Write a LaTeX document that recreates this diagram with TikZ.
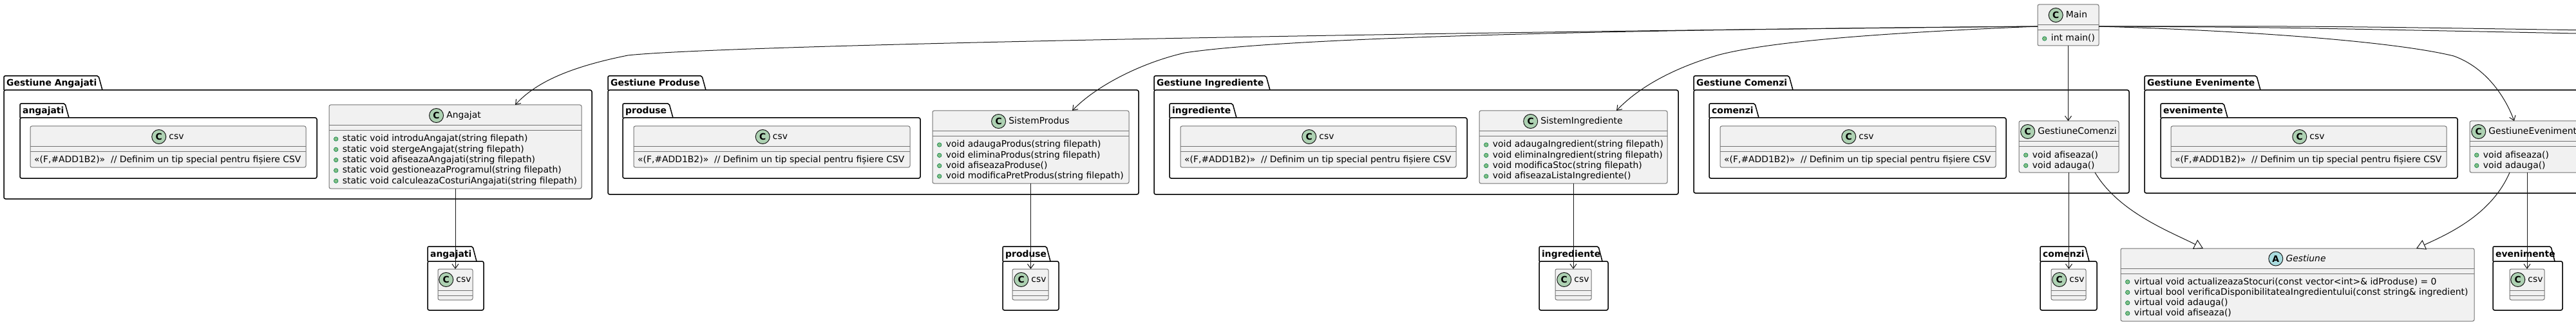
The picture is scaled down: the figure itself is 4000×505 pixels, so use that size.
\documentclass[tikz,border=0pt]{standalone}
\usepackage{fontspec}
\setmainfont{DejaVu Sans}[ItalicFont={DejaVu Sans Oblique},BoldFont={DejaVu Sans Bold}]
\usetikzlibrary{arrows.meta,positioning,calc}
\definecolor{clsfill}{HTML}{F1F1F1}
\definecolor{cfill}{HTML}{ADD1B2}
\definecolor{afill}{HTML}{A9DCDF}
\definecolor{dotfill}{HTML}{84BE84}
\definecolor{dotline}{HTML}{038048}
\definecolor{lnc}{HTML}{181818}
\newcommand{\umlfont}{\fontsize{13.9}{16}\selectfont}
\newcommand{\csvnote}{«(F,\#ADD1B2)»\ \ // Definim un tip special pentru fișiere CSV}
% class box: id, x1, y1, x2, y2, header bottom
\newcommand{\uclass}[6]{%
  \pgfmathsetmacro\uW{#4-#2}\pgfmathsetmacro\uH{#5-#3}%
  \node[classbox, minimum width=\uW pt, minimum height=\uH pt] (#1) at (#2,#3) {};%
  \draw[sepline] (#2,#6) -- (#4,#6);%
  \draw[sepline] (#2,#6+8) -- (#4,#6+8);%
}
% header: id, x1, x2, ycenter, letter, fill, title
\newcommand{\uhead}[7]{%
  \node[ttl] (#1T) at ({(#2+#3)/2+13},#4) {#7};%
  \node[cic, fill=#6, left=4pt of #1T] (#1C) {#5};%
}
% method: id, x1, y, text
\newcommand{\umeth}[4]{%
  \node[mdot] (#1d) at (#2+10.7,#3) {};%
  \node[mtxt] (#1) at (#2+20.7,#3) {#4};%
}
% plain body text: id, x1, y, text
\newcommand{\ubody}[4]{%
  \node[mtxt] (#1) at (#2+6,#3) {#4};%
}
% package: id, x1, ytab, xtab, ybody, x2, ybottom, label
\newcommand{\upkg}[8]{%
  \pgfmathsetmacro\uW{#6-#2}\pgfmathsetmacro\uH{#7-#5}%
  \draw[pkgline, fill=white] (#2,#5) -- (#2,#3) -- (#4-6,#3) -- (#4,#5);%
  \node[pkgbody, minimum width=\uW pt, minimum height=\uH pt] (#1) at (#2,#5) {};%
  \node[pkglabel] (#1L) at (#2+4,{(#3+#5)/2+1}) {#8};%
}
\begin{document}
\begin{tikzpicture}[x=1pt,y=-1pt,
  classbox/.style={anchor=north west, draw=black!55, line width=1pt, fill=clsfill, rounded corners=2.5pt, inner sep=0pt, outer sep=0pt},
  sepline/.style={draw=black!55, line width=1pt},
  ttl/.style={inner sep=0pt, font=\umlfont, text height=10.5pt, text depth=2.5pt},
  cic/.style={circle, draw=lnc, line width=1pt, minimum size=22pt, inner sep=0pt, font=\bfseries\umlfont},
  mdot/.style={circle, draw=dotline, fill=dotfill, line width=0.6pt, minimum size=6.5pt, inner sep=0pt},
  mtxt/.style={anchor=west, inner sep=0pt, font=\umlfont, text height=10.5pt, text depth=2.5pt},
  pkgline/.style={draw=black, line width=1.5pt, rounded corners=2pt},
  pkgbody/.style={anchor=north west, draw=black, line width=1.5pt, fill=white, rounded corners=2.5pt, inner sep=0pt, outer sep=0pt},
  pkglabel/.style={anchor=west, inner sep=0pt, font=\bfseries\umlfont, text height=10.5pt, text depth=2.5pt},
  conn/.style={draw=lnc, line width=1pt},
  dep/.style={conn, -{Straight Barb[length=7pt,width=10pt]}},
  inh/.style={conn, -{Triangle[length=14pt,width=16pt,fill=white]}},
]
\useasboundingbox (0,0) rectangle (4000,505);
\path[clip] (0,0) rectangle (4000,505);

% ---------- Gestiune Angajati ----------
\upkg{pA}{6}{118}{159}{140}{919}{309}{Gestiune Angajati}
\upkg{pAs}{31}{161}{107}{183}{492}{277}{angajati}
\uclass{cA}{47}{196}{475}{260}{228}
\uhead{cA}{47}{475}{212.5}{C}{cfill}{csv}
\ubody{cAb}{47}{248}{\csvnote}
\uclass{ang}{511}{163}{903}{293}{195}
\uhead{ang}{511}{903}{179.5}{C}{cfill}{Angajat}
\umeth{angM1}{511}{216}{static void introduAngajat(string filepath)}
\umeth{angM2}{511}{232.3}{static void stergeAngajat(string filepath)}
\umeth{angM3}{511}{248.6}{static void afiseazaAngajati(string filepath)}
\umeth{angM4}{511}{264.9}{static void gestioneazaProgramul(string filepath)}
\umeth{angM5}{511}{281.2}{static void calculeazaCosturiAngajati(string filepath)}
\upkg{pAl}{664}{383}{740}{406}{751}{482}{angajati}
\uclass{cAl}{680}{418}{734}{466}{451}
\uhead{cAl}{680}{734}{434.5}{C}{cfill}{csv}

% ---------- Gestiune Produse ----------
\upkg{pP}{944}{118}{1096}{140}{1768}{302}{Gestiune Produse}
\upkg{pPs}{967}{161}{1045}{183}{1429}{277}{produse}
\uclass{cP}{984}{196}{1413}{260}{228}
\uhead{cP}{984}{1413}{212.5}{C}{cfill}{csv}
\ubody{cPb}{984}{248}{\csvnote}
\uclass{sp}{1448}{172}{1753}{285}{204}
\uhead{sp}{1448}{1753}{188.5}{C}{cfill}{SistemProdus}
\umeth{spM1}{1448}{225}{void adaugaProdus(string filepath)}
\umeth{spM2}{1448}{241.3}{void eliminaProdus(string filepath)}
\umeth{spM3}{1448}{257.6}{void afiseazaProduse()}
\umeth{spM4}{1448}{273.9}{void modificaPretProdus(string filepath)}
\upkg{pPl}{1557}{383}{1631}{406}{1644}{482}{produse}
\uclass{cPl}{1572}{418}{1628}{466}{451}
\uhead{cPl}{1572}{1628}{434.5}{C}{cfill}{csv}

% ---------- Gestiune Ingrediente ----------
\upkg{pI}{1792}{118}{1972}{140}{2606}{302}{Gestiune Ingrediente}
\upkg{pIs}{1816}{161}{1920}{183}{2278}{277}{ingrediente}
\uclass{cI}{1833}{196}{2261}{260}{228}
\uhead{cI}{1833}{2261}{212.5}{C}{cfill}{csv}
\ubody{cIb}{1833}{248}{\csvnote}
\uclass{si}{2297}{172}{2589}{285}{204}
\uhead{si}{2297}{2589}{188.5}{C}{cfill}{SistemIngrediente}
\umeth{siM1}{2297}{225}{void adaugaIngredient(string filepath)}
\umeth{siM2}{2297}{241.3}{void eliminaIngredient(string filepath)}
\umeth{siM3}{2297}{257.6}{void modificaStoc(string filepath)}
\umeth{siM4}{2297}{273.9}{void afiseazaListaIngrediente()}
\upkg{pIl}{2390}{383}{2488}{406}{2497}{482}{ingrediente}
\uclass{cIl}{2415}{418}{2471}{466}{451}
\uhead{cIl}{2415}{2471}{434.5}{C}{cfill}{csv}

% ---------- Gestiune Comenzi ----------
\upkg{pC}{2630}{118}{2784}{140}{3306}{300}{Gestiune Comenzi}
\upkg{pCs}{2654}{161}{2731}{183}{3115}{277}{comenzi}
\uclass{cC}{2671}{196}{3099}{260}{228}
\uhead{cC}{2671}{3099}{212.5}{C}{cfill}{csv}
\ubody{cCb}{2671}{248}{\csvnote}
\uclass{gc}{3135}{188}{3290}{268}{220}
\uhead{gc}{3135}{3290}{204.5}{C}{cfill}{GestiuneComenzi}
\umeth{gcM1}{3135}{241}{void afiseaza()}
\umeth{gcM2}{3135}{257.3}{void adauga()}
\upkg{pCl}{3168}{383}{3244}{406}{3256}{482}{comenzi}
\uclass{cCl}{3185}{418}{3239}{466}{451}
\uhead{cCl}{3185}{3239}{434.5}{C}{cfill}{csv}

% ---------- Gestiune Evenimente ----------
\upkg{pE}{3330}{118}{3510}{140}{4045}{300}{Gestiune Evenimente}
\upkg{pEs}{3355}{161}{3459}{183}{3816}{277}{evenimente}
\uclass{cE}{3371}{196}{3799}{260}{228}
\uhead{cE}{3371}{3799}{212.5}{C}{cfill}{csv}
\ubody{cEb}{3371}{248}{\csvnote}
\uclass{ge}{3835}{188}{4013}{268}{220}
\uhead{ge}{3835}{4013}{204.5}{C}{cfill}{GestiuneEvenimente}
\umeth{geM1}{3835}{241}{void afiseaza()}
\umeth{geM2}{3835}{257.3}{void adauga()}
\upkg{pEl}{3871}{383}{3967}{406}{3979}{482}{evenimente}
\uclass{cEl}{3897}{418}{3951}{466}{451}
\uhead{cEl}{3897}{3951}{434.5}{C}{cfill}{csv}

% ---------- Main ----------
\uclass{main}{3164}{7}{3259}{71}{39}
\uhead{main}{3164}{3259}{23.5}{C}{cfill}{Main}
\umeth{mainM1}{3164}{60}{int main()}

% ---------- Gestiune (abstract) ----------
\uclass{gest}{3293}{386}{3842}{499}{417}
\uhead{gest}{3293}{3842}{402}{A}{afill}{\itshape Gestiune}
\umeth{gestM1}{3293}{438}{virtual void actualizeazaStocuri(const vector<int>\& idProduse) = 0}
\umeth{gestM2}{3293}{454.3}{virtual bool verificaDisponibilitateaIngredientului(const string\& ingredient)}
\umeth{gestM3}{3293}{470.6}{virtual void adauga()}
\umeth{gestM4}{3293}{486.9}{virtual void afiseaza()}

% ---------- connectors ----------
\coordinate (offA) at (4000,46.7);
\coordinate (offB) at (4000,52);
\draw[dep] ($(main.west)+(0,2)$) .. controls (2000,52) and (1100,72) .. (975,86)
  .. controls (880,105) and (830,130) .. ($(ang.north west)+(289,0)$);
\draw[dep] ($(main.west)+(0,2)$) .. controls (2500,46) and (2000,58) .. (1840,82)
  .. controls (1770,98) and (1700,135) .. ($(sp.north west)+(217,0)$);
\draw[dep] ($(main.west)+(0,2)$) .. controls (2950,50) and (2760,62) .. (2670,85)
  .. controls (2600,105) and (2545,135) .. ($(si.north west)+(213,0)$);
\draw[dep] (main.south) -- (main.south |- gc.north);
\draw[dep] ($(main.east)+(0,2)$) .. controls (3500,48) and (3720,65) .. (3810,87)
  .. controls (3860,105) and (3890,150) .. ($(ge.north west)+(69,0)$);
\draw[conn] ($(main.east)+(0,2)$) .. controls (3600,40.5) .. (offA);
\draw[conn] ($(main.east)+(0,2)$) .. controls (3500,42) .. (offB);

\draw[dep] (ang.south) -- (ang.south |- cAl.north);
\draw[dep] (sp.south) -- (sp.south |- cPl.north);
\draw[dep] (si.south) -- (si.south |- cIl.north);
\draw[dep] (gc.south) -- (gc.south |- cCl.north);
\draw[dep] (ge.south) -- (ge.south |- cEl.north);

\draw[inh] ($(gc.south west)+(118,0)$) .. controls (3290,330) and (3370,360) .. ($(gest.north west)+(128,0)$);
\draw[inh] ($(ge.south west)+(62,0)$) .. controls (3870,330) and (3810,360) .. ($(gest.north west)+(459,0)$);
\end{tikzpicture}
\end{document}
